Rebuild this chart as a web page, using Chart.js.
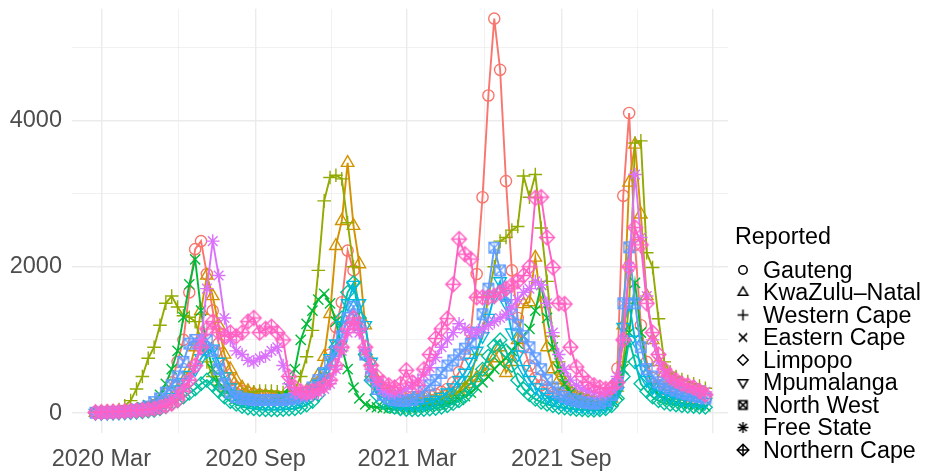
<!DOCTYPE html>
<html>
<head>
<meta charset="utf-8">
<script src="https://cdn.jsdelivr.net/npm/chart.js@4.4.1/dist/chart.umd.min.js"></script>
<style>
html,body{margin:0;padding:0;background:#ffffff;}
#wrap{width:928px;height:472px;}
</style>
</head>
<body>
<div id="wrap"><canvas id="c" width="928" height="472"></canvas></div>
<script>
// ---------------- DATA ----------------
const provinces = ['Gauteng','KwaZulu\u2013Natal','Western Cape','Eastern Cape','Limpopo','Mpumalanga','North West','Free State','Northern Cape'];
const legendTitle = 'Reported';
const firstWeek = '2020-02-23';   // weekly observations start
const xTickDates = ['2020-03-01','2020-09-01','2021-03-01','2021-09-01','2022-03-01'];
const xTickLabels = ['2020 Mar','2020 Sep','2021 Mar','2021 Sep',''];
const xMinorDates = ['2020-06-01','2020-12-01','2021-06-01','2021-12-01'];
const yTicks = [0, 2000, 4000];
const yMinorTicks = [1000, 3000, 5000];

const gauteng = [
10,12,15,18,22,28,35,45,60,80,
110,170,260,420,700,1000,1650,2240,2350,1900,
1400,950,650,450,350,300,280,260,250,240,
230,230,220,220,230,250,280,320,350,480,
800,1175,1515,2220,1950,1300,800,520,380,300,
260,240,230,220,220,220,230,240,260,290,
330,420,560,800,1100,1900,2950,4340,5390,4690,
3170,1950,1300,900,650,480,380,320,280,250,
230,210,190,170,160,150,160,200,330,610,
2970,4100,2300,1200,700,480,380,330,300,270,
250,230,210,190,180];
const kwazuluNatal = [
5,8,10,12,15,20,25,30,40,50,
60,80,130,200,300,430,600,900,1400,1880,
1600,1200,800,600,450,350,300,270,250,240,
230,220,220,230,240,260,300,380,520,770,
1355,2285,2625,3420,2560,2035,1200,700,450,330,
270,230,200,180,170,160,160,170,180,200,
220,250,290,340,400,480,560,650,750,900,
550,700,1000,1490,1515,2125,1490,900,600,450,
350,280,230,200,180,160,150,160,200,400,
1200,3150,3670,2715,1600,1000,700,550,450,400,
360,330,300,270,250];
const westernCape = [
10,15,20,30,50,100,170,330,500,750,
900,1200,1500,1600,1450,1330,1310,1250,1000,700,
500,380,300,270,260,270,280,290,300,300,
300,290,280,290,320,500,770,1130,1950,2900,
3220,3250,3200,2600,2000,1300,800,500,380,320,
280,250,230,210,200,190,180,180,190,200,
220,250,300,400,500,800,1100,1600,2000,2350,
2400,2500,2550,3240,2950,3260,2530,1800,1050,700,
500,380,300,260,230,210,200,210,250,300,
700,1500,3690,3720,2190,1990,1290,700,560,500,
460,430,400,370,340];
const easternCape = [
5,8,10,15,20,30,40,60,80,110,
150,250,400,600,850,1310,1760,2100,1400,900,
600,420,320,250,200,170,150,140,130,130,
140,160,220,350,600,1000,1220,1400,1550,1630,
1500,1250,900,600,350,200,120,90,80,70,
65,60,60,60,65,70,80,90,100,110,
120,150,180,230,280,350,420,500,600,680,
750,850,950,1050,1150,1400,1750,1300,900,600,
400,280,200,150,120,100,90,100,150,250,
600,1100,1780,1100,600,350,250,200,170,150,
130,120,110,100,90];
const limpopo = [
2,3,4,5,6,8,10,15,20,30,
40,60,90,130,170,220,270,330,400,450,
380,300,220,160,120,90,70,60,50,45,
45,45,50,55,60,80,110,160,250,400,
600,900,1300,1650,1780,1300,800,450,250,150,
100,80,60,50,45,45,50,55,65,80,
100,130,170,230,320,450,600,780,920,1000,
850,650,450,330,250,190,150,120,100,80,
70,60,50,45,40,40,45,60,100,200,
500,1000,700,400,300,220,170,140,120,110,
100,95,90,85,80];
const mpumalanga = [
2,3,4,5,8,10,15,20,30,45,
60,90,150,220,320,420,520,600,750,850,
880,700,500,350,250,200,170,150,140,130,
130,130,130,140,150,180,220,300,400,550,
750,950,1200,1500,1750,1500,1200,700,400,250,
180,150,130,120,120,120,130,150,180,220,
280,350,450,550,700,850,1050,1300,1600,1800,
1500,1100,800,600,450,350,280,220,180,150,
130,110,100,90,85,80,85,100,150,300,
1175,1500,1000,600,450,350,300,260,230,210,
190,180,170,160,150];
const northWest = [
5,6,8,10,15,20,30,45,60,90,
150,200,280,380,500,700,950,1000,950,1000,
850,600,400,280,220,200,190,180,180,180,
180,180,180,190,200,230,280,350,450,550,
700,850,1050,1300,1450,1200,800,500,330,250,
200,180,170,170,180,220,300,380,450,550,
650,720,800,880,950,1100,1350,1700,2260,1950,
1600,1350,1200,1050,900,750,600,450,350,280,
220,190,170,150,140,130,140,170,250,400,
1500,2265,1500,900,600,500,420,380,340,310,
280,260,240,220,200];
const freeState = [
5,8,10,12,15,20,25,30,40,50,
60,80,120,180,250,350,450,650,1000,1700,
2350,1880,1300,1000,850,800,720,700,750,780,
850,900,650,400,280,250,240,250,280,330,
400,600,850,1100,1250,1100,850,600,420,320,
280,280,300,330,380,450,520,620,760,900,
1000,1100,1220,1150,1100,1100,1150,1200,1250,1300,
1350,1450,1550,1650,1700,1800,1750,1500,1100,800,
600,450,380,330,300,280,270,280,330,500,
1000,2000,3260,2400,1600,1000,700,550,480,430,
400,370,340,310,290];
const northernCape = [
10,12,15,18,20,25,30,35,40,50,
60,80,100,130,180,300,450,650,900,1150,
1250,1100,1050,1100,1050,1100,1250,1300,1100,1150,
1180,1100,1000,500,350,300,280,300,330,380,
450,650,900,1150,1300,1150,900,650,500,420,
380,350,400,585,420,380,600,800,1020,1150,
1290,1760,2377,2172,2105,1582,1582,1582,1600,1650,
1700,1750,1800,1880,2000,2940,2950,2400,1990,1500,
1490,900,630,500,420,380,350,330,350,420,
1000,2000,2535,2300,1500,1100,800,600,500,450,
400,380,350,300,250];

const seriesValues = [gauteng, kwazuluNatal, westernCape, easternCape, limpopo, mpumalanga, northWest, freeState, northernCape];

// ---------------- STYLE ----------------
const colors = ['#F8766D','#D39200','#93AA00','#00BA38','#00C19F','#00B9E3','#619CFF','#DB72FB','#FF61C3'];
const shapes = ['circle','triangle','cross','crossRot','diamond','downTriangle','squareX','star','diamondPlus'];
const plotR  = [5.6, 7.2, 6.8, 7.2, 6.8, 7.2, 7.0, 6.8, 7.4];
const legR   = [4.2, 5.6, 5.4, 5.8, 5.2, 5.6, 5.6, 5.4, 5.8];
const FONT = "'Liberation Sans', Arial, Helvetica, sans-serif";

const DAY = 86400000;
const origin = Date.parse('2020-03-01');
const toDay = s => Math.round((Date.parse(s) - origin) / DAY);
const start = toDay(firstWeek);

function pathShape(ctx, shape, r) {
  ctx.beginPath();
  const a = r * Math.SQRT1_2;
  switch (shape) {
    case 'circle': ctx.arc(0, 0, r, 0, Math.PI * 2); break;
    case 'triangle':
      ctx.moveTo(0, -r); ctx.lineTo(r * 0.866, r * 0.5); ctx.lineTo(-r * 0.866, r * 0.5); ctx.closePath(); break;
    case 'downTriangle':
      ctx.moveTo(0, r); ctx.lineTo(r * 0.866, -r * 0.5); ctx.lineTo(-r * 0.866, -r * 0.5); ctx.closePath(); break;
    case 'cross':
      ctx.moveTo(-r, 0); ctx.lineTo(r, 0); ctx.moveTo(0, -r); ctx.lineTo(0, r); break;
    case 'crossRot':
      ctx.moveTo(-a, -a); ctx.lineTo(a, a); ctx.moveTo(-a, a); ctx.lineTo(a, -a); break;
    case 'diamond':
      ctx.moveTo(0, -r); ctx.lineTo(r, 0); ctx.lineTo(0, r); ctx.lineTo(-r, 0); ctx.closePath(); break;
    case 'squareX': {
      const h = r * 0.74;
      ctx.rect(-h, -h, 2 * h, 2 * h);
      ctx.moveTo(-h, -h); ctx.lineTo(h, h); ctx.moveTo(-h, h); ctx.lineTo(h, -h); break;
    }
    case 'star':
      ctx.moveTo(-r, 0); ctx.lineTo(r, 0); ctx.moveTo(0, -r); ctx.lineTo(0, r);
      ctx.moveTo(-a, -a); ctx.lineTo(a, a); ctx.moveTo(-a, a); ctx.lineTo(a, -a); break;
    case 'diamondPlus':
      ctx.moveTo(0, -r); ctx.lineTo(r, 0); ctx.lineTo(0, r); ctx.lineTo(-r, 0); ctx.closePath();
      ctx.moveTo(-r, 0); ctx.lineTo(r, 0); ctx.moveTo(0, -r); ctx.lineTo(0, r); break;
  }
  ctx.stroke();
}

function shapeCanvas(shape, color, r, lw) {
  const size = Math.ceil(2 * r + lw + 4);
  const cv = document.createElement('canvas');
  cv.width = size; cv.height = size;
  const c = cv.getContext('2d');
  c.translate(size / 2, size / 2);
  c.strokeStyle = color; c.lineWidth = lw; c.lineJoin = 'miter';
  pathShape(c, shape, r);
  return cv;
}

function pointStyleFor(i) {
  const s = shapes[i];
  if (s === 'circle') return {style: 'circle', rot: 0};
  if (s === 'triangle') return {style: 'triangle', rot: 0};
  if (s === 'downTriangle') return {style: 'triangle', rot: 180};
  if (s === 'cross') return {style: 'cross', rot: 0};
  if (s === 'crossRot') return {style: 'crossRot', rot: 0};
  if (s === 'diamond') return {style: 'rectRot', rot: 0};
  if (s === 'star') return {style: 'star', rot: 0};
  return {style: shapeCanvas(s, colors[i], plotR[i], 1.4), rot: 0};
}

const datasets = provinces.map((name, i) => {
  const ps = pointStyleFor(i);
  return {
    label: name,
    data: seriesValues[i].map((v, k) => ({x: start + 7 * k, y: v})),
    borderColor: colors[i],
    backgroundColor: colors[i],
    borderWidth: 1.9,
    pointStyle: ps.style,
    pointRotation: ps.rot,
    pointRadius: plotR[i],
    pointBorderWidth: 1.4,
    pointBorderColor: colors[i],
    pointBackgroundColor: 'rgba(0,0,0,0)',
    tension: 0,
    order: provinces.length - i
  };
});

const xMajor = xTickDates.map(toDay);
const xMinor = xMinorDates.map(toDay);

const ggLegend = {
  id: 'ggLegend',
  afterDraw(chart) {
    const ctx = chart.ctx;
    ctx.save();
    ctx.fillStyle = '#000000';
    ctx.textAlign = 'left';
    ctx.textBaseline = 'alphabetic';
    ctx.font = '23.3px ' + FONT;
    ctx.fillText(legendTitle, 735, 244);
    chart.data.datasets.forEach((ds, i) => {
      const yb = 277.5 + i * 22.5;
      const cv = shapeCanvas(shapes[i], '#000000', legR[i], 1.5);
      ctx.drawImage(cv, 743 - cv.width / 2, yb - 7.5 - cv.height / 2);
      ctx.fillText(ds.label, 763, yb);
    });
    ctx.restore();
  }
};

new Chart(document.getElementById('c'), {
  type: 'line',
  data: {datasets},
  options: {
    responsive: false,
    animation: false,
    devicePixelRatio: 1,
    events: [],
    layout: {padding: {left: 0, right: 200, top: 7, bottom: 0}},
    plugins: {legend: {display: false}, tooltip: {enabled: false}},
    scales: {
      x: {
        type: 'linear',
        min: -35, max: 748,
        afterBuildTicks: s => { s.ticks = xMajor.concat(xMinor).sort((a, b) => a - b).map(v => ({value: v})); },
        afterFit: s => { s.height = 39; s.paddingLeft = 0; s.paddingRight = 0; },
        border: {display: false},
        grid: {
          drawTicks: false,
          color: '#ebebeb',
          lineWidth: ctx => (ctx.tick && xMajor.includes(ctx.tick.value)) ? 1.4 : 0.7
        },
        ticks: {
          autoSkip: false, maxRotation: 0, padding: 12,
          color: '#4d4d4d', font: {family: FONT, size: 23.5},
          callback: v => { const k = xMajor.indexOf(v); return k >= 0 ? xTickLabels[k] : ''; }
        }
      },
      y: {
        type: 'linear',
        min: -272, max: 5524,
        afterBuildTicks: s => { s.ticks = yTicks.concat(yMinorTicks).sort((a, b) => a - b).map(v => ({value: v})); },
        afterFit: s => { s.width = 72; s.paddingTop = 0; s.paddingBottom = 0; },
        border: {display: false},
        grid: {
          drawTicks: false,
          color: '#ebebeb',
          lineWidth: ctx => (ctx.tick && yTicks.includes(ctx.tick.value)) ? 1.4 : 0.7
        },
        ticks: {
          autoSkip: false, padding: 10,
          color: '#4d4d4d', font: {family: FONT, size: 23.5},
          callback: v => yTicks.includes(v) ? String(v) : ''
        }
      }
    }
  },
  plugins: [ggLegend]
});
</script>
</body>
</html>
